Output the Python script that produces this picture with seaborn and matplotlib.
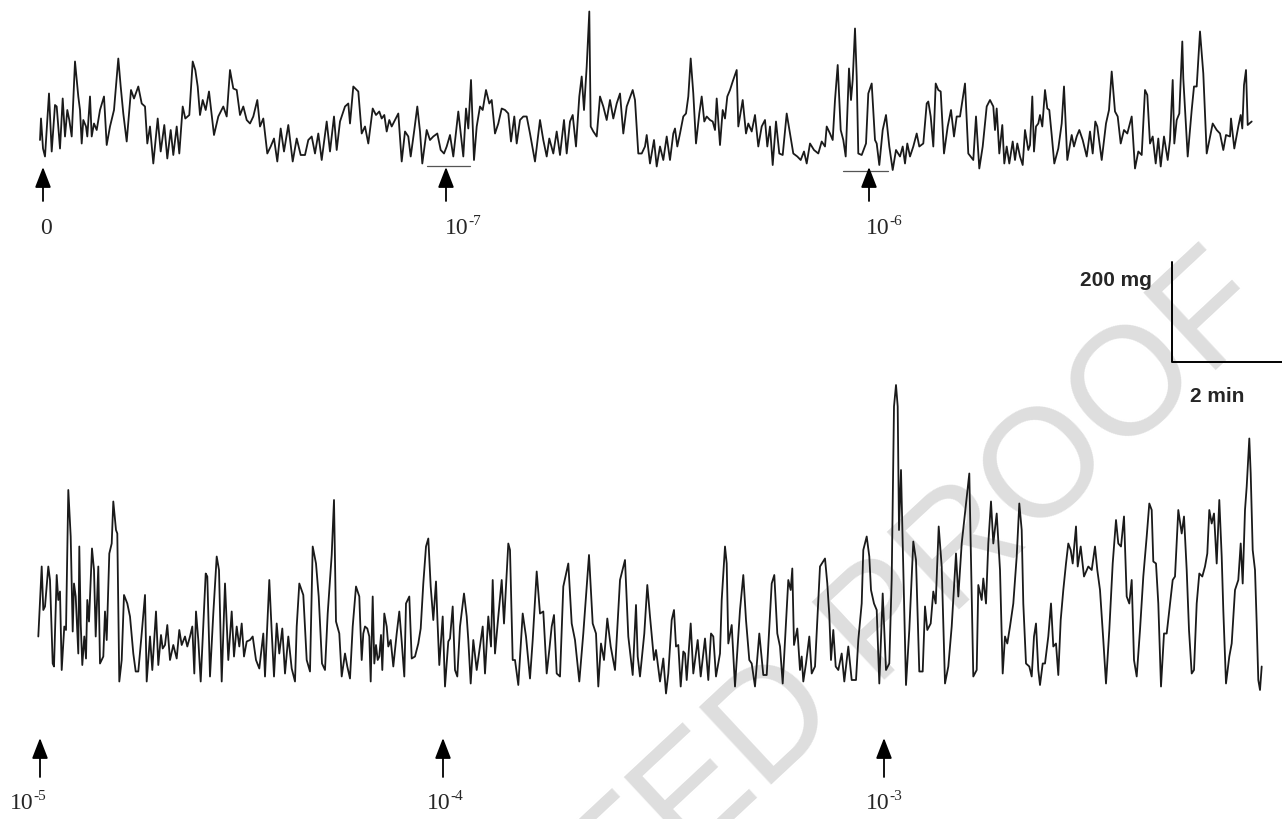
import matplotlib
matplotlib.use("Agg")
import pandas as pd
import matplotlib.pyplot as plt
import seaborn as sns

# upper record: (time in s, tension in mg)
top_trace = [
    (0, 60), (1, 103), (3, 43), (5, 27), (9, 153), (11.7, 37), (15, 130), (16.7, 127), (20, 43), (22.7, 143),
    (25, 67), (27.3, 120), (29.3, 100), (31.7, 67), (35, 217), (38.3, 147), (40, 120), (41.7, 53), (43.3, 100), (46, 87),
    (47.3, 67), (50, 147), (51.7, 67), (54, 93), (56.7, 80), (60, 120), (64, 147), (66.7, 50), (70, 87), (74, 120),
    (78.3, 223), (80.7, 167), (83.3, 113), (86.7, 57), (91, 160), (94, 143), (98.3, 167), (101.7, 133), (105, 127), (107.3, 53),
    (110, 87), (113.3, 13), (117.7, 103), (120.7, 37), (124.3, 90), (127.3, 23), (130.7, 80), (133.3, 30), (136.7, 87), (139.3, 33),
    (142.7, 127), (145.3, 103), (149.3, 110), (152.7, 217), (155.3, 200), (157.7, 167), (160, 110), (162.7, 140), (165.7, 120), (169, 157),
    (174, 70), (178.3, 107), (183.3, 127), (186.7, 107), (190, 200), (193.3, 163), (196.7, 160), (200, 110), (203.3, 127), (206.7, 100),
    (210, 93), (213.3, 107), (217.3, 140), (220, 87), (223.3, 103), (227.3, 33), (230.7, 47), (234, 63), (237.3, 17), (240.7, 83),
    (244, 37), (248.3, 90), (252.7, 17), (256.7, 63), (260.7, 30), (265, 30), (268.3, 60), (271.7, 67), (275, 33), (278.3, 73),
    (281.7, 20), (286.7, 97), (290, 37), (294, 107), (296.7, 40), (300, 97), (305, 127), (308.3, 133), (310, 93), (313.3, 167),
    (318.3, 157), (321.7, 73), (325, 87), (328.3, 53), (332.7, 123), (336, 110), (339.3, 117), (341.7, 103), (344.3, 110), (346.7, 77),
    (349.3, 100), (351.7, 87), (355, 100), (358.3, 113), (361.7, 17), (365, 77), (368.3, 67), (370.7, 27), (374.3, 80), (377.3, 127),
    (380, 77), (382.3, 13), (386.7, 80), (390, 60), (393.3, 67), (397.3, 73), (400.7, 40), (404, 33), (406.7, 47), (410, 70),
    (413.3, 27), (418.3, 117), (423.3, 27), (426, 123), (428.3, 83), (431, 180), (434, 20), (436.7, 87), (440, 127), (442.7, 120),
    (446, 160), (449.3, 133), (451.7, 140), (455, 73), (458.3, 93), (461.7, 123), (465, 120), (468.3, 113), (471, 57), (474.3, 107),
    (476.7, 53), (480, 100), (483.3, 107), (486.7, 107), (490, 73), (495, 17), (500, 100), (503.3, 60), (506.7, 27), (509.3, 63),
    (513.3, 33), (516.7, 77), (520, 30), (524, 100), (526.7, 33), (530, 97), (532.7, 110), (536, 47), (539.3, 147), (541.7, 187),
    (544, 120), (546.7, 207), (549.3, 317), (550.7, 87), (553.3, 77), (556.7, 67), (560, 147), (563.3, 127), (566.7, 100), (570, 140),
    (573.3, 103), (576.7, 133), (580, 153), (583.3, 73), (586.7, 127), (592.7, 160), (595, 140), (598.3, 33), (601.7, 33), (605, 47),
    (606.7, 70), (610, 13), (614, 60), (616.7, 7), (620, 47), (623.3, 20), (626.7, 67), (630, 20), (633.3, 73),
    (635, 83), (637.3, 47), (640, 73), (643.3, 107), (646, 113), (648.3, 147), (650.7, 223), (653.3, 153), (656, 53), (659.3, 113),
    (661.7, 147), (664.3, 97), (666.7, 107), (670, 100), (672.7, 97), (675, 80), (676.7, 143), (680, 50), (682.7, 120), (685, 103),
    (687.3, 147), (690, 160), (692.7, 177), (696.7, 200), (698.3, 87), (702.7, 140), (706, 73), (708.3, 93), (711.7, 77), (715, 110),
    (718.3, 47), (721.7, 87), (725, 100), (727.3, 47), (730, 87), (732.7, 10), (736, 97), (739.3, 33), (742.7, 30), (746.7, 113),
    (750, 73), (753.3, 33), (757.3, 27), (760.7, 20), (764, 37), (766.7, 13), (770, 53), (774, 40), (778.3, 33), (781.7, 57),
    (785, 47), (786.7, 87), (790, 73), (792.7, 60), (795, 140), (797.7, 210), (800.7, 80), (803.3, 60), (805.7, 27), (809, 203),
    (811, 140), (812.7, 180), (815, 283), (816.7, 187), (818.3, 33), (821.7, 30), (826, 53), (828.3, 153), (831.7, 173), (835, 60),
    (836.7, 53), (839.3, 10), (842.7, 80), (846, 110), (849.3, 47), (852.7, 0), (856, 40), (860, 27), (862.7, 47), (865, 13),
    (867.3, 53), (870, 27), (873.3, 47), (876.7, 73), (879.3, 47), (883.3, 53), (886.7, 133), (888.3, 137), (890.7, 107), (893.3, 47),
    (895.7, 173), (898.3, 160), (900.7, 157), (904, 33), (907.7, 87), (911, 120), (914, 67), (916.7, 107), (920, 107), (925, 173),
    (928.3, 33), (933.3, 20), (936, 107), (939.3, 3), (942.7, 47), (946.7, 127), (950, 140), (953.3, 127),
    (955, 80), (956.7, 123), (959.3, 33), (962.3, 90), (964.3, 13), (966.7, 47), (969.3, 13), (972.7, 57), (975, 20), (977.3, 53),
    (980, 27), (982.7, 10), (985, 80), (988.3, 40), (990, 50), (992.3, 147), (994, 37), (996, 87), (998.3, 93), (1000, 110),
    (1002.3, 87), (1005, 160), (1007.3, 123), (1009.3, 120), (1011.7, 70), (1014.3, 13), (1018.3, 43), (1021.7, 93), (1024, 167), (1027.3, 20),
    (1031.7, 70), (1034, 47), (1036.7, 67), (1039.3, 80), (1042.7, 60), (1046.7, 27), (1050, 77), (1052.7, 33), (1055.3, 97), (1057.3, 87),
    (1061.7, 20), (1066, 93), (1069, 120), (1071.7, 197), (1075, 117), (1077.7, 107), (1080.7, 53), (1084, 80), (1087.3, 73), (1091.7, 107),
    (1095, 3), (1098.3, 37), (1101.7, 30), (1105, 160), (1107.3, 150), (1110, 53), (1112.7, 67), (1115.7, 13), (1118.3, 63), (1120.7, 7),
    (1124, 67), (1127.7, 20), (1130, 60), (1132.7, 180), (1134.3, 53), (1136.7, 100), (1139.3, 113), (1142.3, 257), (1143.3, 183), (1147.7, 27),
    (1151.7, 120), (1154, 167), (1156.7, 167), (1160, 277), (1163.3, 193), (1166.7, 33), (1172.7, 93), (1176.7, 80), (1180, 73), (1183.3, 40),
    (1186, 70), (1190, 67), (1191, 103), (1194.3, 43), (1198.3, 87), (1200.7, 110), (1202.3, 83), (1204, 170), (1206, 200), (1207.7, 90),
    (1211.7, 97),
]

# lower record: (time in s, tension in mg)
bottom_trace = [
    (-1.7, 107), (1.7, 247), (3.3, 160), (5, 167), (8.3, 247), (10, 220), (12.7, 53), (14, 47), (16.7, 230), (18.3, 180),
    (20, 197), (21.7, 40), (24.3, 127), (26, 120), (28.3, 400), (30.7, 307), (32.7, 117), (34, 213), (35.7, 187), (38.3, 73),
    (39.3, 287), (40.7, 133), (42.3, 50), (44.3, 107), (46, 63), (47.3, 180), (49, 137), (52, 283), (54, 240), (55.7, 107),
    (58.3, 247), (60, 53), (63.3, 67), (65, 157), (66.7, 100), (69.3, 273), (71.7, 293), (73.3, 377), (76, 320), (77.3, 313),
    (79.3, 17), (81.7, 60), (84, 190), (87.3, 173), (90, 147), (93.3, 73), (95.7, 37), (98.3, 37), (101.7, 113), (105, 190),
    (106.7, 17), (110, 107), (112.3, 40), (116, 157), (118.3, 50), (121, 110), (122.7, 83), (125, 90), (127.3, 130), (130, 60),
    (133.3, 90), (136.7, 63), (139.3, 120), (141.7, 90), (145, 107), (147.3, 87), (150, 107), (152.3, 127), (154.3, 33), (156, 157),
    (158.3, 100), (160.7, 17), (163.3, 127), (165.7, 233), (167.3, 227), (170, 27), (173.3, 153), (176.7, 267), (179, 240), (181.7, 17),
    (185, 213), (188.3, 60), (191.7, 157), (194, 67), (196.7, 127), (199.3, 87), (201.7, 133), (204, 67), (206.7, 97), (210, 100),
    (212.7, 107), (216, 60), (219.3, 43), (223.3, 113), (225, 27), (229.3, 220), (231.7, 117), (234, 27), (236.7, 133), (239.3, 73),
    (242.3, 123), (245, 33), (248.3, 107), (251.7, 43), (255, 17), (256.7, 127), (259.3, 213), (263.3, 190), (266.7, 60), (270, 37),
    (272.7, 287), (276, 253), (278.7, 187), (282, 53), (285, 40), (287.7, 153), (291.7, 270), (294, 380), (296, 137), (299.3, 113),
    (301.7, 27), (305, 73), (307.3, 47), (310, 23), (312.7, 127), (316, 207), (319.3, 187),
    (320, 147), (321.7, 60), (323.3, 113), (325, 127), (327.3, 123), (329.3, 107), (330.7, 17), (332.7, 187), (334.3, 53), (336, 90),
    (337.7, 60), (339.3, 67), (341, 110), (342.3, 40), (344.3, 153), (346.7, 127), (348.3, 87), (350.7, 100), (353.3, 47), (356.7, 113),
    (359.3, 157), (361.7, 97), (364.3, 27), (366, 173), (369.3, 187), (371.7, 63), (375, 67), (378.3, 93), (380.7, 123), (383.3, 213),
    (386, 287), (388.3, 303), (390.7, 207), (393.3, 140), (396, 217), (397.3, 147), (399.3, 50), (402.7, 147), (405, 7), (408.3, 97),
    (410, 103), (412.7, 167), (415, 40), (417.3, 27), (420, 127), (424, 193), (426.7, 147), (428.3, 100), (430.7, 13), (433.3, 100),
    (436.7, 40), (440, 87), (442.7, 127), (445, 33), (448.3, 147), (451, 87), (452.7, 220), (455, 73), (458.3, 147), (461.7, 220),
    (464, 133), (468.3, 293), (470, 280), (472.7, 60), (475, 60), (478.3, 10), (482.7, 153), (486, 107), (490, 23), (492.7, 100),
    (496.7, 237), (500, 153), (503.3, 157), (506.7, 33), (509.3, 80), (511.7, 127), (514, 150), (516.7, 33), (520, 27), (523.3, 207),
    (528.3, 253), (531.7, 133), (535, 100), (539.3, 17), (543.3, 113), (546.7, 207), (549, 270), (552.7, 133), (556, 113), (558.3, 7),
    (561, 93), (564, 60), (567.3, 143), (570.7, 87), (575, 40), (580, 220), (585, 260), (588.3, 107), (592.7, 30), (596, 170),
    (597.7, 67), (600, 27), (604.3, 113), (607.3, 210), (610, 147), (614, 60), (616, 80), (620, 17), (623.3, 63), (626, -7),
    (628.3, 33), (631.7, 140), (634, 160),
    (636, 87), (638.3, 90), (640.7, 7), (643.3, 77), (645, 73), (646.7, 20), (650.7, 133), (653.3, 33), (657.7, 100), (660.7, 27),
    (665, 103), (668.3, 20), (671, 113), (673.3, 107), (676, 27), (680, 73), (681.7, 180), (685, 287), (686.7, 253), (688.3, 93),
    (691.7, 130), (695, 7), (700, 160), (703.3, 230), (706, 140), (709.3, 60), (711.7, 53), (715, 7), (719.3, 113), (723.3, 30),
    (726.7, 30), (731.7, 213), (734.3, 230), (737.3, 113), (740, 87), (742.7, 13), (748.3, 220), (750.7, 200), (752.3, 243), (754, 90),
    (757.3, 123), (760, 40), (761.7, 67), (763.3, 17), (766, 53), (769.3, 107), (771.7, 33), (775, 47), (780, 247), (785, 263),
    (787.3, 213), (789.3, 150), (791, 60), (793.3, 120), (795.7, 47), (798.3, 40), (801.7, 73), (804.3, 17), (808.3, 87), (811.7, 20),
    (816, 20), (818.3, 100), (821.7, 173), (823.3, 280), (826.7, 307), (829.3, 267), (831, 200), (834, 173), (836.7, 160), (839.3, 13),
    (842.7, 193), (846, 40), (849.3, 53), (851.7, 223), (854, 567), (856, 610), (857.7, 567), (859, 320), (861, 440), (863.3, 240),
    (866, 10), (869.3, 120), (873.3, 297), (876, 260), (879.3, 37), (882.7, 37), (885, 167), (887.3, 120), (890.7, 133), (893.3, 197),
    (895.7, 173), (898.7, 327), (901.7, 247), (905, 13), (908.3, 47), (911.7, 127), (916, 273), (918.3, 187), (921.7, 293), (925, 353),
    (929.3, 433), (933.3, 27), (936.7, 40), (938.3, 210), (941.7, 180), (943.3, 223), (946, 173), (948.3, 293), (951, 377), (953.3, 293),
    (956.7, 353),
    (960, 240), (962.7, 33), (965, 107), (967.3, 93), (970, 127), (973.3, 173), (976.7, 267), (979.3, 373), (981.7, 320), (983.3, 173),
    (986, 53), (989.3, 47), (991.7, 27), (994, 107), (996, 133), (998.3, 40), (1000, 10), (1002.7, 53), (1005, 53), (1008.3, 107),
    (1011, 173), (1013.3, 87), (1016, 93), (1018.3, 30), (1020.7, 140), (1023.3, 200), (1026, 253), (1028.3, 293), (1030.7, 280), (1032.7, 253),
    (1036, 327), (1037.7, 247), (1040.7, 287), (1044, 227), (1048.3, 247), (1051.7, 240), (1055, 287), (1057.3, 240), (1060, 200), (1063.3, 100),
    (1066, 13), (1069.3, 120), (1072.7, 253), (1076, 340), (1078.3, 293), (1081, 287), (1084, 347), (1086.7, 187), (1089.3, 173), (1091.7, 220),
    (1094, 60), (1096.7, 27), (1100, 120), (1103.3, 227), (1106.7, 307), (1109.3, 373), (1111.7, 360), (1113.3, 257), (1116, 253), (1118.3, 173),
    (1121, 7), (1124, 113), (1126.7, 113), (1129.3, 160), (1132.7, 220), (1135, 227), (1138.3, 360), (1141.7, 313), (1144, 347), (1146.7, 240),
    (1149, 120), (1151.7, 33), (1154, 40), (1156.7, 173), (1159.3, 233), (1162.3, 227), (1165, 247), (1167.3, 273), (1169.3, 360), (1171.7, 333),
    (1174, 353), (1176.7, 253), (1179.3, 380), (1181.7, 267), (1183.3, 160), (1186, 13), (1189.3, 67), (1191.7, 93), (1195, 200), (1198.3, 220),
    (1200.7, 293), (1202.7, 213), (1205, 360), (1206.7, 407), (1209.3, 503), (1210.7, 433), (1212.7, 280), (1215, 240), (1216.7, 133), (1218.3, 20),
    (1220, 0), (1221.7, 47),
]

# doses (M) added at the arrows: base "10" and exponent
top_dose_base = ["0", "10", "10"]
top_dose_exp = ["", "-7", "-6"]
top_dose_time = [3, 406, 829]
top_label_time = [0, 405, 826]
bottom_dose_base = ["10", "10", "10"]
bottom_dose_exp = ["-5", "-4", "-3"]
bottom_dose_time = [0, 403, 844]
bottom_label_time = [-30, 387, 826]

# short marks under the trace at 10-7 and 10-6
mark_start = [387, 803]
mark_end = [430, 848]
mark_level = [9, -1]

top_df = pd.DataFrame(top_trace, columns=["time_s", "tension_mg"])
bottom_df = pd.DataFrame(bottom_trace, columns=["time_s", "tension_mg"])

sns.set_style("white")
plt.rcParams["font.family"] = ["Liberation Serif", "DejaVu Serif"]

fig = plt.figure(figsize=(12.82, 8.19), dpi=100)
fig.patch.set_facecolor("white")

# faint watermark behind the traces
fig.text(726 / 1282, 1 - 772 / 819, "ACCEPTED PROOF", rotation=43, rotation_mode="anchor",
         ha="center", va="center", fontsize=111, color="#dedede",
         family="Liberation Sans", zorder=-5)

ax_top = fig.add_axes([0, 0, 1, 1])
ax_bot = fig.add_axes([0, 0, 1, 1])
for ax in (ax_top, ax_bot):
    ax.set_xlim(-40, 1242)
    ax.axis("off")
ax_top.set_ylim(-1298, 340)
ax_bot.set_ylim(-258, 1380)

trace_kw = dict(x="time_s", y="tension_mg", estimator=None, sort=False,
                color="#1a1a1a", linewidth=1.3, legend=False)
sns.lineplot(data=top_df, ax=ax_top, **trace_kw)
sns.lineplot(data=bottom_df, ax=ax_bot, **trace_kw)

arrow_kw = dict(arrowstyle="-|>,head_length=0.9,head_width=0.35", color="black", lw=1.3,
                shrinkA=0, shrinkB=0, mutation_scale=14)


def dose_label(ax, t, y, base, exp):
    txt = ax.text(t, y, base, ha="left", va="center", fontsize=17)
    if exp:
        ax.annotate(exp, xy=(1.0, 1.0), xycoords=txt, xytext=(0.0, 2.5),
                    textcoords="offset points", ha="left", va="top", fontsize=11)


for b, e, t, lt in zip(top_dose_base, top_dose_exp, top_dose_time, top_label_time):
    ax_top.annotate("", xy=(t, 6), xytext=(t, -62), arrowprops=arrow_kw)
    dose_label(ax_top, lt, -118, b, e)
for s, e, lv in zip(mark_start, mark_end, mark_level):
    ax_top.plot([s, e], [lv, lv], color="#555555", lw=0.9)

for b, e, t, lt in zip(bottom_dose_base, bottom_dose_exp, bottom_dose_time, bottom_label_time):
    ax_bot.annotate("", xy=(t, -96), xytext=(t, -174), arrowprops=arrow_kw)
    dose_label(ax_bot, lt, -227, b, e)

# calibration: 200 mg, 2 min
ax_bot.plot([1132, 1132, 1252], [856, 656, 656], color="black", lw=1.4, clip_on=False)
ax_bot.text(1112, 818, "200 mg", ha="right", va="center", fontsize=15,
            fontweight="bold", family="Liberation Sans")
ax_bot.text(1177, 586, "2 min", ha="center", va="center", fontsize=15,
            fontweight="bold", family="Liberation Sans")

fig.savefig("out.png", dpi=100, facecolor="white")
